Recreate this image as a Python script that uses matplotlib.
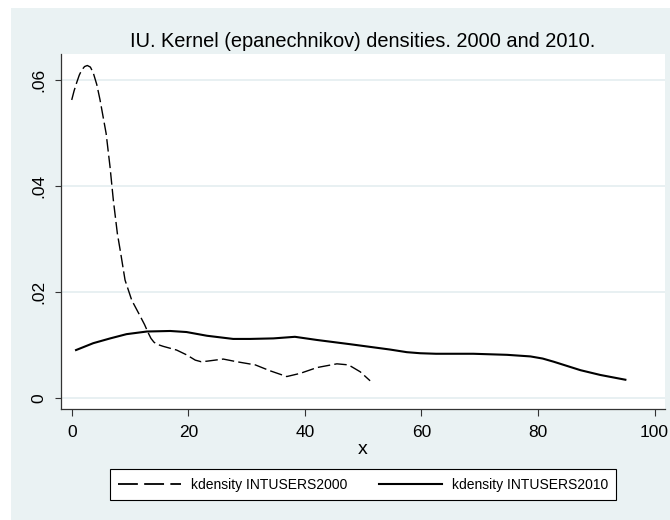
import numpy as np
import matplotlib
matplotlib.use('Agg')
import matplotlib.pyplot as plt
from matplotlib.lines import Line2D
from matplotlib.patches import Rectangle

plt.rcParams['font.family'] = ['Liberation Sans', 'DejaVu Sans']

# kdensity INTUSERS2000
x2000 = [0.0, 0.4, 0.86, 1.3, 1.7, 2.2, 2.68, 3.2, 3.7, 4.3, 4.86, 5.9, 6.57, 7.14, 7.83, 8.4,
         9.15, 10.3, 11.7, 12.5, 13.1, 13.6, 14.1, 14.6, 15.7, 18.0, 19.7, 21.2, 22.2, 23.2,
         26.0, 28.3, 31.5, 34.0, 36.9, 39.2, 42.1, 45.5, 47.5, 49.5, 51.2]
y2000 = [0.0563, 0.0580, 0.0596, 0.0610, 0.0619, 0.0626, 0.0628, 0.0625, 0.0614, 0.0592,
         0.0563, 0.0500, 0.0437, 0.0374, 0.0311, 0.0274, 0.0223, 0.0185, 0.0156, 0.0139,
         0.0124, 0.0113, 0.0106, 0.0102, 0.0098, 0.0091, 0.0082, 0.0072, 0.0069, 0.0070,
         0.0074, 0.0069, 0.0063, 0.0052, 0.0041, 0.0047, 0.0058, 0.0065, 0.0063, 0.0050,
         0.0033]

# kdensity INTUSERS2010
x2010 = [0.74, 3.7, 6.6, 9.4, 12.9, 16.9, 19.7, 23.2, 27.7, 30.6, 34.6, 38.3, 42.1, 47.8,
         54.6, 57.5, 59.8, 62.5, 65.0, 68.9, 74.7, 78.7, 80.8, 82.7, 85.0, 87.3, 90.7, 95.0]
y2010 = [0.0091, 0.0104, 0.0113, 0.0121, 0.0126, 0.0127, 0.0125, 0.0118, 0.0112, 0.0112,
         0.0113, 0.0116, 0.0110, 0.0102, 0.0092, 0.0087, 0.0085, 0.0084, 0.0084, 0.0084,
         0.0082, 0.0079, 0.0075, 0.0069, 0.0061, 0.0053, 0.0044, 0.0035]

xticks = [0, 20, 40, 60, 80, 100]
yticks = [0, 0.02, 0.04, 0.06]
ytick_labels = ['0', '.02', '.04', '.06']

title = 'IU. Kernel (epanechnikov) densities. 2000 and 2010.'
labels = ['kdensity INTUSERS2000', 'kdensity INTUSERS2010']

W, H = 670, 520
bg = '#eaf2f3'

fig = plt.figure(figsize=(W / 100, H / 100), dpi=100, facecolor='white')
fig.patches.append(Rectangle((11 / W, 0), 1 - 11 / W, 1 - 8 / H, transform=fig.transFigure,
                             facecolor=bg, edgecolor='none', zorder=-10))

ax = fig.add_axes([61 / W, 1 - 409.3 / H, (665 - 61) / W, (409.3 - 54) / H])
ax.set_facecolor('white')

for yt in yticks:
    ax.axhline(yt, color='#e4edf0', lw=1.2, zorder=0)

l1, = ax.plot(x2000, y2000, color='black', lw=1.0, dashes=(9, 3))
l2, = ax.plot(x2010, y2010, color='black', lw=1.5)

ax.set_xlim(-1.84, 101.8)
ax.set_ylim(-0.00208, 0.06497)
ax.set_xticks(xticks)
ax.set_xticklabels([str(v) for v in xticks], fontsize=12.5)
ax.set_yticks(yticks)
ax.set_yticklabels(ytick_labels, fontsize=12.5, rotation=90, va='center')
ax.tick_params(axis='x', length=5, width=0.8, pad=6, color='#333333')
ax.tick_params(axis='y', length=4.5, width=0.8, pad=6, color='#333333')

for s in ['top', 'right']:
    ax.spines[s].set_visible(False)
for s in ['left', 'bottom']:
    ax.spines[s].set_color('#333333')
    ax.spines[s].set_linewidth(0.9)

ax.set_xlabel('x', fontsize=14, va='center')
ax.xaxis.set_label_coords(0.5, -(449 - 409.3) / (409.3 - 54))

fig.text(363 / W, 1 - 46.7 / H, title, ha='center', va='baseline', fontsize=14.4)

h1 = Line2D([], [], color='black', lw=1.3, dashes=(11, 3.5))
h2 = Line2D([], [], color='black', lw=1.5)
leg = fig.legend([h1, h2], labels, loc='center', bbox_to_anchor=(363 / W, 1 - 484.5 / H),
                 ncol=2, fontsize=10, frameon=True, fancybox=False, framealpha=1,
                 edgecolor='black', handlelength=4.5, handletextpad=0.72,
                 columnspacing=2.3, borderpad=0.6)
leg.get_frame().set_linewidth(0.8)

plt.savefig('out.png', dpi=100, facecolor='white')
plt.close()
